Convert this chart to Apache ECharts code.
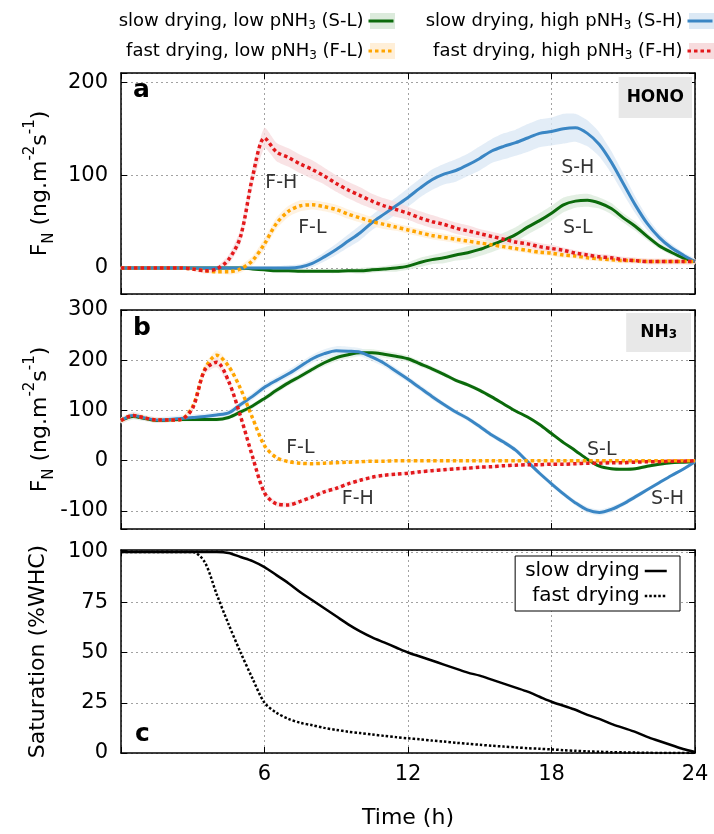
<!DOCTYPE html>
<html>
<head>
<meta charset="utf-8">
<script src="https://cdn.jsdelivr.net/npm/echarts@6/dist/echarts.min.js"></script>
<style>
html, body { margin: 0; padding: 0; background: #fff; }
#main { width: 714px; height: 834px; }
</style>
</head>
<body>
<div id="main"></div>
<script>
// time axis (h), one value every half hour
var hours = [
  0, 0.5, 1, 1.5, 2, 2.5, 3, 3.5,
  4, 4.5, 5, 5.5, 6, 6.5, 7, 7.5,
  8, 8.5, 9, 9.5, 10, 10.5, 11, 11.5,
  12, 12.5, 13, 13.5, 14, 14.5, 15, 15.5,
  16, 16.5, 17, 17.5, 18, 18.5, 19, 19.5,
  20, 20.5, 21, 21.5, 22, 22.5, 23, 23.5,
  24
];

// panel a: HONO flux
var honoSL = [
  0, 0, 0, 0, 0, 0, 0, 0,
  0, 0, 0, -1, -2, -3, -3, -3.5,
  -3.5, -3.5, -3.5, -3, -3, -2, -1, 0,
  2, 6, 9, 11, 14, 16.5, 20, 25,
  30, 36, 44, 51, 59, 68, 72, 73,
  70, 64, 54, 45, 34, 24, 17, 11,
  7
];
var honoSLerr = [
  1, 1, 1, 1, 1, 1, 1, 1,
  1, 1, 2, 2, 2, 2, 2, 2,
  2, 2, 2, 2, 3, 3, 3, 4,
  4, 5, 5, 6, 6, 7, 7, 8,
  8, 8, 8, 8, 8, 8, 7, 7,
  6, 6, 5, 5, 4, 3, 3, 2,
  2
];
var honoSH = [
  0, 0, 0, 0, 0, 0, 0, 0,
  0, 0, 0, 0, 0, 0, 0, 1,
  5, 12, 20, 29, 38, 49, 58, 67,
  76, 86, 95, 101, 105, 111, 118, 126,
  131, 135, 140, 145, 147, 150, 151, 145,
  133, 114, 91, 68, 48, 33, 22, 14,
  7
];
var honoSHerr = [
  2, 2, 2, 2, 2, 2, 2, 2,
  2, 2, 2, 2, 2, 2, 3, 3,
  4, 5, 6, 7, 8, 8, 9, 9,
  10, 10, 11, 11, 12, 12, 13, 13,
  14, 14, 15, 15, 15, 16, 15, 14,
  13, 12, 11, 9, 7, 5, 4, 3,
  3
];
var honoFL = [
  0, 0, 0, 0, 0, 0, -1, -3,
  -4, -4, -1, 8, 26, 48, 61, 67,
  68, 66, 63, 58, 54, 50, 47, 44,
  41, 38, 35, 33, 31, 29, 27, 25,
  23, 21, 19, 17, 16, 14, 13, 11,
  10, 9, 8, 8, 7, 7, 7, 7,
  7
];
var honoFLerr = [
  2, 2, 2, 2, 2, 2, 2, 2,
  2, 3, 4, 5, 6, 6, 6, 6,
  5, 5, 5, 5, 5, 5, 5, 4,
  4, 4, 4, 4, 4, 4, 4, 3,
  3, 3, 3, 3, 3, 3, 3, 3,
  3, 3, 3, 3, 3, 3, 3, 3,
  3
];
var honoFH = [
  0, 0, 0, 0, 0, 0, -1, -3,
  -1, 9, 34, 98, 140, 125, 119, 112,
  106, 99, 91, 84, 78, 72, 67, 63,
  59, 54, 50, 47, 43, 40, 37, 34,
  31, 28, 26, 23, 21, 19, 16, 14,
  12, 11, 9, 8, 7, 7, 7, 7,
  7
];
var honoFHerr = [
  2, 2, 2, 2, 2, 2, 2, 3,
  3, 5, 8, 10, 11, 10, 10, 10,
  10, 9, 9, 9, 9, 8, 8, 8,
  7, 7, 7, 6, 6, 6, 5, 5,
  5, 4, 4, 4, 4, 3, 3, 3,
  3, 3, 3, 3, 3, 3, 3, 3,
  3
];

// panel b: NH3 flux
var nh3SL = [
  80, 88, 84, 80, 81, 82, 82, 82,
  82, 86, 97, 109, 124, 140, 155, 168,
  182, 195, 205, 211, 215, 215, 212, 208,
  203, 193, 183, 172, 160, 151, 140, 127,
  113, 99, 87, 72, 54, 36, 20, 3,
  -11, -16, -17, -16, -11, -7, -4, -3,
  -2
];
var nh3SLerr = [
  5, 6, 5, 5, 4, 4, 4, 4,
  4, 4, 5, 5, 5, 6, 6, 6,
  6, 7, 7, 7, 7, 7, 7, 7,
  6, 6, 5, 5, 4, 4, 4, 4,
  3, 3, 3, 3, 3, 3, 3, 3,
  3, 3, 3, 3, 3, 3, 3, 3,
  3
];
var nh3SH = [
  80, 90, 85, 81, 82, 84, 86, 88,
  91, 95, 112, 128, 146, 160, 173, 188,
  203, 213, 219, 218, 216, 206, 194, 178,
  162, 145, 128, 112, 97, 84, 68, 51,
  37, 21, -2, -25, -46, -66, -84, -98,
  -103, -97, -86, -72, -58, -44, -30, -17,
  -2
];
var nh3SHerr = [
  6, 7, 6, 6, 6, 6, 6, 6,
  6, 6, 6, 7, 7, 7, 8, 8,
  8, 9, 9, 9, 8, 8, 7, 7,
  6, 6, 6, 5, 5, 5, 5, 5,
  5, 5, 5, 5, 5, 5, 5, 6,
  6, 6, 5, 5, 4, 4, 3, 3,
  3
];
var nh3FL = [
  80, 90, 85, 81, 81, 82, 108, 182,
  210, 188, 143, 85, 30, 6, -2, -5,
  -6, -5, -4, -3, -2, -1, -1, 0,
  0, 0, 0, 0, 0, 0, 0, 0,
  0, 0, 0, 0, 0, 0, 0, 0,
  0, 0, 0, 0, 0, 0, 0, 0,
  0
];
var nh3FLerr = [
  5, 6, 5, 5, 4, 4, 6, 9,
  10, 8, 6, 4, 3, 3, 3, 3,
  3, 3, 3, 3, 3, 3, 3, 3,
  3, 3, 3, 3, 3, 3, 3, 3,
  3, 3, 3, 3, 3, 3, 3, 3,
  3, 3, 3, 3, 3, 3, 3, 3,
  3
];
var nh3FH = [
  80, 90, 85, 81, 81, 82, 105, 180,
  196, 158, 88, 8, -64, -86, -88, -81,
  -72, -62, -55, -46, -39, -33, -29, -27,
  -25, -22, -20, -18, -16, -15, -13, -12,
  -10, -9, -8, -8, -7, -7, -6, -5,
  -5, -4, -4, -3, -2, -2, -1, -1,
  0
];
var nh3FHerr = [
  5, 6, 5, 5, 4, 4, 5, 8,
  10, 8, 6, 5, 5, 5, 5, 4,
  4, 4, 4, 3, 3, 3, 3, 3,
  3, 3, 3, 3, 3, 3, 3, 3,
  3, 3, 3, 3, 3, 3, 3, 3,
  3, 3, 3, 3, 3, 3, 3, 3,
  3
];

// panel c: soil saturation (%WHC)
var satSlow = [
  100, 100, 100, 100, 100, 100, 100, 100,
  100, 99.5, 97.5, 95.5, 92.5, 88.5, 84.5, 80,
  76, 72, 68, 64, 60.5, 57.5, 55, 52.5,
  50, 48, 46, 44, 42, 40, 38.5, 36.5,
  34.5, 32.5, 30.5, 28, 25.5, 23.5, 21.5, 19,
  17, 14.5, 12.5, 10.5, 8, 6, 4, 2,
  0.5
];
var satFast = [
  100, 100, 100, 100, 100, 100, 100, 95,
  79, 64, 50, 37, 25, 20, 17, 15,
  13.8, 12.5, 11.5, 10.6, 9.9, 9.2, 8.5, 7.9,
  7.3, 6.8, 6.2, 5.7, 5.1, 4.6, 4.1, 3.6,
  3.2, 2.8, 2.4, 2.1, 1.8, 1.4, 1.1, 0.8,
  0.6, 0.4, 0.3, 0.2, 0.1, 0, 0, 0,
  0
];

// curve labels [text, hour, value]
var labelsA = [['F-H', 6.7, 91], ['F-L', 8.0, 43], ['S-H', 19.1, 108], ['S-L', 19.1, 43]];
var labelsB = [['F-L', 7.5, 25], ['F-H', 9.9, -76], ['S-L', 20.1, 21], ['S-H', 22.85, -76]];

var legendText = {
  'S-L': 'slow drying, low pNH{s|3} (S-L)',
  'S-H': 'slow drying, high pNH{s|3} (S-H)',
  'F-L': 'fast drying, low pNH{s|3} (F-L)',
  'F-H': 'fast drying, high pNH{s|3} (F-H)'
};

var FONT = 'DejaVu Sans';
var lineCol = { 'S-L': '#0b6a0b', 'S-H': '#3a86c4', 'F-L': '#ffa500', 'F-H': '#e3191c' };
var bandCol = { 'S-L': '#dcebdc', 'S-H': '#dce9f5', 'F-L': '#ffefd8', 'F-H': '#f7dcde' };

var chartDom = document.getElementById('main');
var myChart = echarts.init(chartDom);

function pairs(vals) {
  return hours.map(function (t, i) { return [t, vals[i]]; });
}

function band(name, vals, errs, gi, opacity) {
  return {
    type: 'custom',
    name: name + ' band',
    xAxisIndex: gi * 2,
    yAxisIndex: gi * 2,
    silent: true,
    z: 1,
    itemStyle: { color: bandCol[name] },
    data: [[12, 0]],
    renderItem: function (params, api) {
      var pts = [];
      for (var i = 0; i < hours.length; i++) pts.push(api.coord([hours[i], vals[i] + errs[i]]));
      for (var j = hours.length - 1; j >= 0; j--) pts.push(api.coord([hours[j], vals[j] - errs[j]]));
      return { type: 'polygon', shape: { points: pts, smooth: 0.2 }, style: { fill: bandCol[name], opacity: opacity } };
    }
  };
}

function flux(name, vals, gi) {
  var dotted = name.charAt(0) === 'F';
  return {
    type: 'line',
    name: name,
    xAxisIndex: gi * 2,
    yAxisIndex: gi * 2,
    data: pairs(vals),
    smooth: 0.3,
    showSymbol: false,
    symbol: 'none',
    silent: true,
    z: 3,
    itemStyle: { color: lineCol[name] },
    lineStyle: { color: lineCol[name], width: dotted ? 3.5 : 3, type: dotted ? [3.5, 3] : 'solid' }
  };
}

function curveLabels(list, gi) {
  return {
    type: 'scatter',
    xAxisIndex: gi * 2,
    yAxisIndex: gi * 2,
    symbolSize: 0,
    silent: true,
    z: 5,
    itemStyle: { color: '#000' },
    data: list.map(function (d) { return [d[1], d[2], d[0]]; }),
    label: {
      show: true, position: 'inside', fontSize: 19, fontFamily: FONT, color: '#000',
      textBorderWidth: 0,
      formatter: function (p) { return p.value[2]; }
    }
  };
}

var gridLine = { show: true, lineStyle: { color: '#8a8a8a', width: 0.8, type: [2, 3] } };
var frame = { show: true, onZero: false, lineStyle: { color: '#000', width: 1.5 } };
var tick = { show: true, inside: true, length: 6, lineStyle: { color: '#000', width: 1 } };
// hides the marker a line series draws in the middle of its legend icon
var noMarker = { color: 'rgba(0,0,0,0)', opacity: 0, borderWidth: 0 };

function xAxes(gi, showLabels) {
  return [{
    type: 'value', gridIndex: gi, min: 0, max: 24, interval: 6, position: 'bottom',
    axisLine: frame, axisTick: tick, splitLine: gridLine,
    axisLabel: {
      show: showLabels, fontSize: 21, fontFamily: FONT, color: '#000', margin: 11,
      formatter: function (v) { return v === 0 ? '' : v; }
    },
    name: showLabels ? 'Time (h)' : '', nameLocation: 'middle', nameGap: 54, nameMoveOverlap: false,
    nameTextStyle: { fontSize: 22, fontFamily: FONT, color: '#000' }
  }, {
    type: 'value', gridIndex: gi, min: 0, max: 24, interval: 6, position: 'top',
    axisLine: frame, axisTick: tick, splitLine: { show: false }, axisLabel: { show: false }
  }];
}

function yAxes(gi, min, max, step, name, gap) {
  return [{
    type: 'value', gridIndex: gi, min: min, max: max, minInterval: step, maxInterval: step, position: 'left',
    axisLine: frame, axisTick: tick, splitLine: gridLine,
    axisLabel: {
      fontSize: 21, fontFamily: FONT, color: '#000', margin: 13,
      formatter: function (v) { return v % step === 0 ? v : ''; }
    },
    name: name, nameLocation: 'middle', nameGap: gap, nameMoveOverlap: false,
    nameTextStyle: {
      fontSize: 22, fontFamily: FONT, color: '#000', lineHeight: 34,
      rich: {
        sub: { fontSize: 15, fontFamily: FONT, color: '#000', lineHeight: 15, verticalAlign: 'bottom' },
        sup: { fontSize: 15, fontFamily: FONT, color: '#000', lineHeight: 15, verticalAlign: 'top' }
      }
    }
  }, {
    type: 'value', gridIndex: gi, min: min, max: max, minInterval: step, maxInterval: step, position: 'right',
    axisLine: frame, axisTick: tick, splitLine: { show: false }, axisLabel: { show: false }
  }];
}

var fluxName = 'F{sub|N} (ng.m{sup|-2}s{sup|-1})';

function topLegend(data, right, isBand) {
  var txt = isBand ? 'rgba(0,0,0,0)' : '#000';
  var lg = {
    orient: 'vertical', align: 'right', right: right, top: 10, padding: 0,
    itemGap: 8, itemWidth: 25, itemHeight: 16, selectedMode: false,
    z: isBand ? 4 : 5,
    itemStyle: isBand ? { borderWidth: 0 } : noMarker,
    lineStyle: { width: 3 },
    data: data,
    formatter: function (n) { return legendText[n.replace(' band', '')]; },
    textStyle: {
      fontSize: 18, fontFamily: FONT, color: txt, lineHeight: 22,
      rich: { s: { fontSize: 12, fontFamily: FONT, color: txt, lineHeight: 12, verticalAlign: 'bottom' } }
    }
  };
  if (isBand) lg.icon = 'rect';
  return lg;
}

var series = [];
var order = ['S-L', 'S-H', 'F-L', 'F-H'];
var hono = { 'S-L': [honoSL, honoSLerr], 'S-H': [honoSH, honoSHerr], 'F-L': [honoFL, honoFLerr], 'F-H': [honoFH, honoFHerr] };
var nh3 = { 'S-L': [nh3SL, nh3SLerr], 'S-H': [nh3SH, nh3SHerr], 'F-L': [nh3FL, nh3FLerr], 'F-H': [nh3FH, nh3FHerr] };
order.forEach(function (n) { series.push(band(n, hono[n][0], hono[n][1], 0, 0.8)); });
order.forEach(function (n) { series.push(band(n, nh3[n][0], nh3[n][1], 1, 0.65)); });
order.forEach(function (n) { series.push(flux(n, hono[n][0], 0)); });
order.forEach(function (n) { series.push(flux(n, nh3[n][0], 1)); });
series.push(curveLabels(labelsA, 0));
series.push(curveLabels(labelsB, 1));
series.push({
  type: 'line', name: 'slow drying', xAxisIndex: 4, yAxisIndex: 4, data: pairs(satSlow),
  smooth: 0.3, symbol: 'none', silent: true, z: 3,
  itemStyle: { color: '#000' }, lineStyle: { color: '#000', width: 2.5 }
});
series.push({
  type: 'line', name: 'fast drying', xAxisIndex: 4, yAxisIndex: 4, data: pairs(satFast),
  smooth: 0.3, symbol: 'none', silent: true, z: 3,
  itemStyle: { color: '#000' }, lineStyle: { color: '#000', width: 2.5, type: [2.5, 2] }
});

var option = {
  animation: false,
  backgroundColor: '#fff',
  textStyle: { fontFamily: FONT },
  title: [
    { text: 'a', left: 133, top: 78, padding: 0, textStyle: { fontSize: 25, fontWeight: 'bold', fontFamily: FONT, color: '#000' } },
    { text: 'b', left: 133, top: 316, padding: 0, textStyle: { fontSize: 25, fontWeight: 'bold', fontFamily: FONT, color: '#000' } },
    { text: 'c', left: 135, top: 722, padding: 0, textStyle: { fontSize: 25, fontWeight: 'bold', fontFamily: FONT, color: '#000' } },
    { text: 'HONO', right: 22, top: 77, padding: [12, 8], backgroundColor: '#e8e8e8',
      textStyle: { fontSize: 17, fontWeight: 'bold', fontFamily: FONT, color: '#000' } },
    { text: 'NH{s|3}', right: 23, top: 313, padding: [11, 14], backgroundColor: '#e8e8e8',
      textStyle: { fontSize: 17, fontWeight: 'bold', fontFamily: FONT, color: '#000',
        rich: { s: { fontSize: 12, fontWeight: 'bold', fontFamily: FONT, color: '#000', lineHeight: 12, verticalAlign: 'bottom' } } } }
  ],
  legend: [
    topLegend(['S-L band', 'F-L band'], 319, true),
    topLegend(['S-H band', 'F-H band'], 0, true),
    topLegend(['S-L', 'F-L'], 319, false),
    topLegend(['S-H', 'F-H'], 0, false),
    {
      orient: 'vertical', align: 'right', right: 34, top: 556, padding: [5, 12, 5, 10],
      borderColor: '#000', borderWidth: 1, backgroundColor: '#fff',
      itemGap: 5, itemWidth: 22, itemHeight: 14, selectedMode: false,
      itemStyle: noMarker,
      lineStyle: { width: 2.5 },
      data: ['slow drying', 'fast drying'],
      textStyle: { fontSize: 20, fontFamily: FONT, color: '#000' }
    }
  ],
  grid: [
    { left: 121, right: 19, top: 73, height: 221, outerBoundsMode: 'none' },
    { left: 121, right: 19, top: 310, height: 219, outerBoundsMode: 'none' },
    { left: 121, right: 19, top: 550, height: 203, outerBoundsMode: 'none' }
  ],
  xAxis: [].concat(xAxes(0, false), xAxes(1, false), xAxes(2, true)),
  yAxis: [].concat(
    yAxes(0, -28, 210, 100, fluxName, 64),
    yAxes(1, -136, 300, 100, fluxName, 64),
    yAxes(2, 0, 101, 25, 'Saturation (%WHC)', 66)
  ),
  series: series
};
option && myChart.setOption(option);
</script>
</body>
</html>
